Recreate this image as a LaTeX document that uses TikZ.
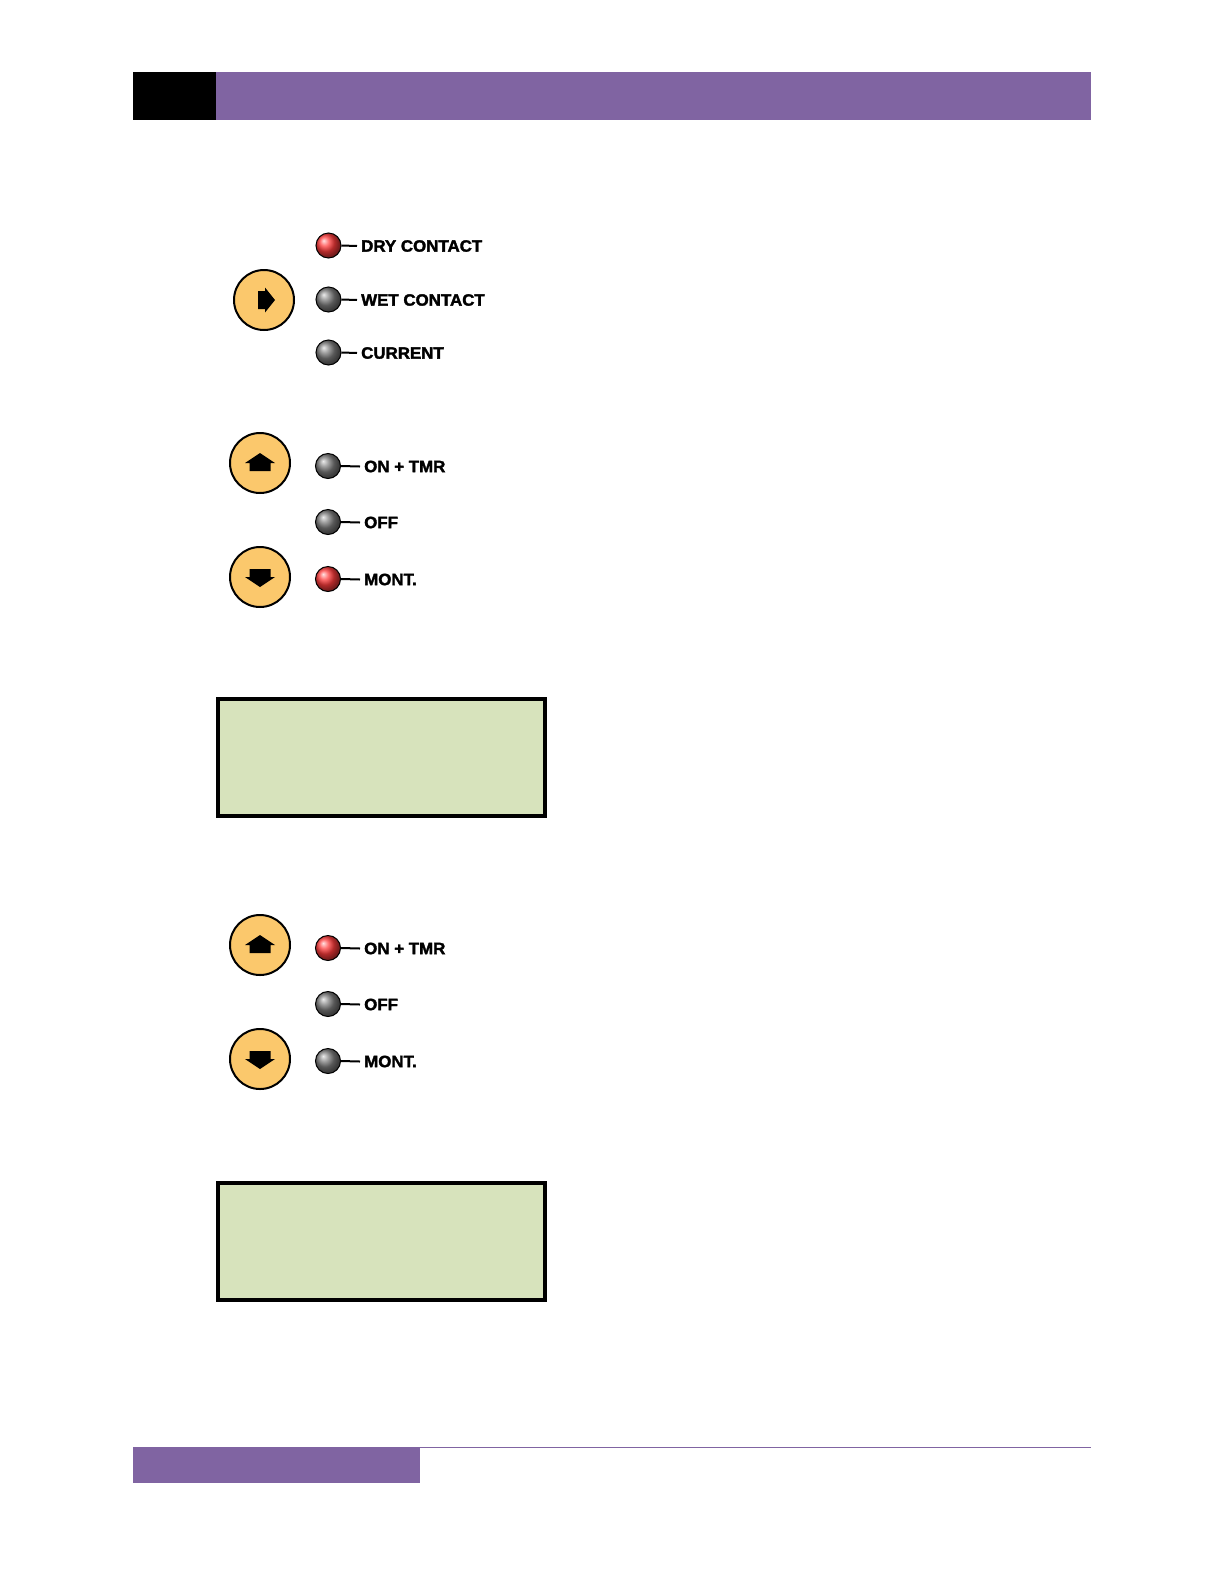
\documentclass[tikz,border=0pt]{standalone}
\usepackage{fontspec}
\setmainfont{Liberation Sans}
\newfontfamily\lblfont{Liberation Sans Bold}[FakeBold=2,FakeStretch=1.03]
\definecolor{hdrpurple}{RGB}{128,100,162}
\definecolor{lcdgreen}{RGB}{215,227,188}
\definecolor{btnfill}{RGB}{251,200,108}
\definecolor{ledredc}{RGB}{255,60,60}
\definecolor{ledgrayc}{RGB}{125,125,125}
\begin{document}
\begin{tikzpicture}[x=1pt,y=-1pt,
  button/.style={circle,draw=black,line width=2pt,fill=btnfill,minimum size=60pt,inner sep=0pt},
  ledred/.style={circle,draw=black,line width=1pt,shading=ball,ball color=ledredc,minimum size=25pt,inner sep=0pt},
  ledgray/.style={circle,draw=black,line width=1pt,shading=ball,ball color=ledgrayc,minimum size=25pt,inner sep=0pt},
  lbl/.style={anchor=west,inner xsep=4pt,inner ysep=0pt,font=\lblfont\fontsize{16.4}{18}\selectfont},
  wire/.style={draw=black,line width=2pt},
  lcd/.style={rectangle,draw=black,line width=4pt,fill=lcdgreen,minimum width=327pt,minimum height=117pt,inner sep=0pt}]
\useasboundingbox (0,0) rectangle (1225,1585);
% header and footer
\fill[black] (133,72) rectangle (216,120);
\fill[hdrpurple] (216,72) rectangle (1091,120);
\fill[hdrpurple] (133,1447) rectangle (420,1483);
\draw[hdrpurple,line width=1.5pt] (420,1447.5) -- (1091,1447.5);

% panel 1: mode selection
\node[button] (bR) at (264,300) {};
\fill[shift={(bR.center)}] (11,0) -- (1,-12.5) -- (1,-9) -- (-6,-9) -- (-6,9) -- (1,9) -- (1,12.5) -- cycle;
\node[ledred]  (l1a) at (328.5,245.5) {};
\node[ledgray] (l1b) at (328.5,299.5) {};
\node[ledgray] (l1c) at (328.5,352.5) {};
\node[lbl] (t1a) at (357,246) {DRY CONTACT};
\node[lbl] (t1b) at (357,300) {WET CONTACT};
\node[lbl] (t1c) at (357,353) {CURRENT};
\draw[wire] (l1a.east) -- (t1a.west);
\draw[wire] (l1b.east) -- (t1b.west);
\draw[wire] (l1c.east) -- (t1c.west);

% panel 2
\node[button] (bU2) at (260,463) {};
\node[button] (bD2) at (260,577) {};
\fill[shift={(bU2.center)}] (0,-10) -- (15,0) -- (10.5,0) -- (10.5,8) -- (-10.5,8) -- (-10.5,0) -- (-15,0) -- cycle;
\fill[shift={(bD2.center)}] (0,10) -- (15,0) -- (10.5,0) -- (10.5,-8) -- (-10.5,-8) -- (-10.5,0) -- (-15,0) -- cycle;
\node[ledgray] (l2a) at (328,466) {};
\node[ledgray] (l2b) at (328,522) {};
\node[ledred]  (l2c) at (328,579) {};
\node[lbl] (t2a) at (360,466.5) {ON + TMR};
\node[lbl] (t2b) at (360,522.5) {OFF};
\node[lbl] (t2c) at (360,579.5) {MONT.};
\draw[wire] (l2a.east) -- (t2a.west);
\draw[wire] (l2b.east) -- (t2b.west);
\draw[wire] (l2c.east) -- (t2c.west);

\node[lcd] (lcd1) at (381.5,757.5) {};

% panel 3
\node[button] (bU3) at (260,945) {};
\node[button] (bD3) at (260,1059) {};
\fill[shift={(bU3.center)}] (0,-10) -- (15,0) -- (10.5,0) -- (10.5,8) -- (-10.5,8) -- (-10.5,0) -- (-15,0) -- cycle;
\fill[shift={(bD3.center)}] (0,10) -- (15,0) -- (10.5,0) -- (10.5,-8) -- (-10.5,-8) -- (-10.5,0) -- (-15,0) -- cycle;
\node[ledred]  (l3a) at (328,948) {};
\node[ledgray] (l3b) at (328,1004) {};
\node[ledgray] (l3c) at (328,1061) {};
\node[lbl] (t3a) at (360,948.5) {ON + TMR};
\node[lbl] (t3b) at (360,1004.5) {OFF};
\node[lbl] (t3c) at (360,1061.5) {MONT.};
\draw[wire] (l3a.east) -- (t3a.west);
\draw[wire] (l3b.east) -- (t3b.west);
\draw[wire] (l3c.east) -- (t3c.west);

\node[lcd] (lcd2) at (381.5,1241.5) {};
\end{tikzpicture}
\end{document}
